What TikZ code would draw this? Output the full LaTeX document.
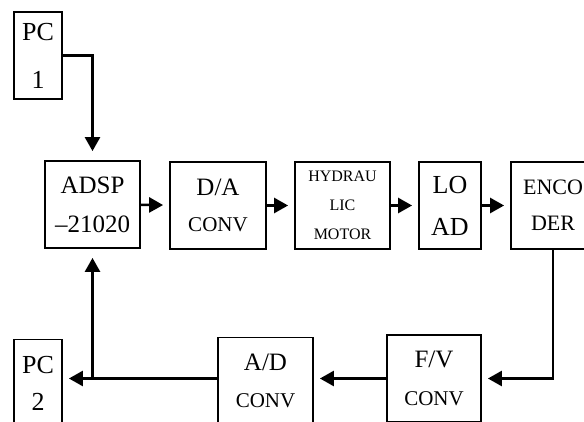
\documentclass[tikz,border=0pt]{standalone}
\usepackage{fontspec}
\setmainfont{Liberation Serif}
\usetikzlibrary{arrows.meta}
\tikzset{
  blk/.style={draw, line width=1.8pt, inner sep=0pt, align=center},
  sig/.style={line width=2.6pt, -{Triangle[length=14pt,width=15pt]}, shorten >=6pt},
  vsig/.style={sig, shorten >=9pt}
}
\newcommand{\bigtxt}{\fontsize{25}{39}\selectfont}
\newcommand{\midtxt}{\fontsize{21}{36}\selectfont}
\begin{document}
\begin{tikzpicture}[x=1pt,y=-1pt]
\useasboundingbox (0,0) rectangle (584,422);
\clip (0,0) rectangle (584,422);
%%% forward path
\node[blk, minimum width=48pt, minimum height=87pt, font=\fontsize{26}{48}\selectfont] (pc1) at (38,55.5) {PC\\1};
\node[blk, minimum width=95pt, minimum height=87pt, font=\bigtxt] (adsp) at (92.5,204.5) {ADSP\\--21020};
\node[blk, minimum width=96pt, minimum height=87pt, font=\fontsize{25}{36}\selectfont] (da) at (218,205.5) {D/A\\{\midtxt CONV}};
\node[blk, minimum width=95pt, minimum height=87pt, font=\fontsize{16}{29}\selectfont] (hyd) at (342.5,205.5) {HYDRAU\\LIC\\MOTOR};
\node[blk, minimum width=62pt, minimum height=87pt, font=\fontsize{26}{42}\selectfont] (load) at (450,205.5) {LO\\AD};
\node[blk, minimum width=84pt, minimum height=87pt, font=\fontsize{22}{36}\selectfont] (enc) at (553,205.5) {ENCO\\DER};
%%% feedback path
\node[blk, minimum width=94pt, minimum height=87pt, font=\fontsize{25}{38}\selectfont] (fv) at (434,378.5) {F/V\\{\midtxt CONV}};
\node[blk, minimum width=95pt, minimum height=87pt, font=\fontsize{25}{37}\selectfont] (ad) at (265.5,381) {A/D\\{\midtxt CONV}};
\node[blk, minimum width=48pt, minimum height=87pt, font=\fontsize{26}{37}\selectfont] (pc2) at (38,383) {PC\\2};
\coordinate (br) at (adsp.south |- fv.west);
%%% connections
\draw[vsig] (pc1.east) -| (adsp.north);
\draw[sig] (adsp) -- (da);
\draw[sig] (da) -- (hyd);
\draw[sig] (hyd) -- (load);
\draw[sig] (load) -- (enc);
\draw[sig] (enc.south) |- (fv.east);
\draw[sig] (fv.west) -- (ad.east |- fv.west);
\draw[sig] (ad.west |- fv.west) -- (pc2.east |- fv.west);
\draw[vsig] (br) -- (adsp.south);
\end{tikzpicture}
\end{document}
